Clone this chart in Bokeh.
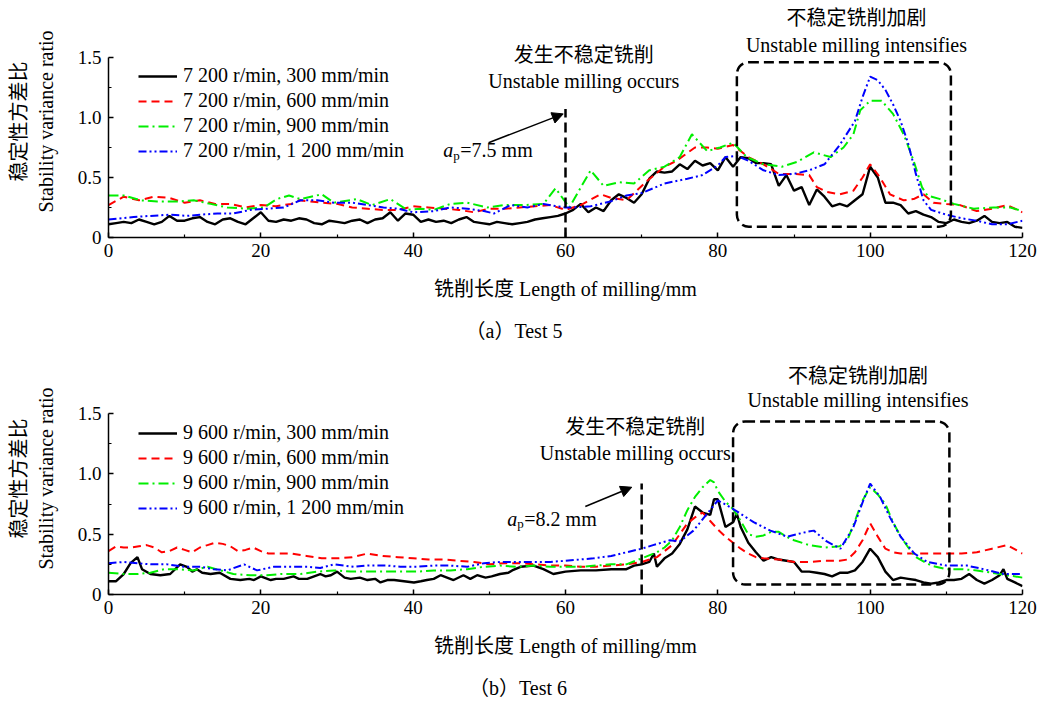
from bokeh.plotting import figure
from bokeh.layouts import column
from bokeh.models import Range1d, FixedTicker, Legend, LegendItem, Arrow, NormalHead, Label, Div
from bokeh.embed import file_html
from bokeh.resources import INLINE

# ---------------- Test 5 (7 200 r/min) ----------------
bk5_x = list(range(0, 121))
bk5_y = [0.11,0.12,0.13,0.12,0.15,0.13,0.11,0.13,0.18,0.14,
         0.14,0.16,0.17,0.13,0.11,0.15,0.16,0.13,0.11,0.16,
         0.21,0.14,0.13,0.15,0.14,0.16,0.15,0.12,0.11,0.14,
         0.13,0.12,0.14,0.15,0.12,0.15,0.16,0.21,0.14,0.20,
         0.19,0.13,0.15,0.13,0.14,0.12,0.15,0.17,0.13,0.12,
         0.11,0.13,0.12,0.11,0.12,0.13,0.15,0.16,0.17,0.18,
         0.20,0.23,0.28,0.21,0.25,0.22,0.31,0.36,0.33,0.29,
         0.36,0.49,0.55,0.54,0.55,0.61,0.57,0.64,0.60,0.62,
         0.56,0.67,0.59,0.67,0.66,0.62,0.62,0.61,0.43,0.52,
         0.39,0.42,0.27,0.40,0.34,0.26,0.28,0.26,0.31,0.36,
         0.59,0.50,0.29,0.29,0.27,0.20,0.22,0.19,0.17,0.13,
         0.12,0.15,0.13,0.12,0.14,0.18,0.13,0.12,0.13,0.09,0.08]

rd5_x = [0,2,4,6,8,10,12,14,16,18,20,22,24,25,28,30,32,34,36,38,
         40,42,44,46,48,50,52,54,56,58,60,62,64.6,66,68,70.7,73,74.6,77,78.6,
         80,82,84,86,88,90,92,93,94.3,96,97.8,99,100,101.3,102.6,104.4,105.7,107,108.3,110,
         111.8,114,116,118,120]
rd5_y = [0.27,0.34,0.31,0.34,0.33,0.29,0.31,0.28,0.28,0.25,0.27,0.26,0.28,0.31,0.29,0.28,0.25,0.24,0.23,0.23,
         0.26,0.25,0.24,0.23,0.21,0.24,0.24,0.25,0.26,0.27,0.23,0.27,0.36,0.33,0.31,0.47,0.59,0.64,0.75,0.75,
         0.74,0.77,0.67,0.61,0.53,0.53,0.52,0.42,0.38,0.36,0.39,0.50,0.61,0.50,0.36,0.31,0.32,0.36,0.29,0.28,
         0.27,0.22,0.24,0.27,0.21]

gr5_x = [0,2,4.2,6.4,9,11.2,13.4,15.6,18.2,20.4,22.1,23.7,25.2,28,29.6,32.6,34.6,37,39.2,40.9,
         42.7,44.9,47.1,49.7,51.9,54.5,57.1,58.7,60.5,63.3,65,67,69,71,73,75,76.6,78.6,80.3,82,
         83.8,86,88.4,90.4,92.6,94.8,96.5,97.8,98.7,100,101.5,103,104.4,105.7,106.8,107.5,109.2,111,113.6,116.2,
         118.4,120]
gr5_y = [0.35,0.35,0.31,0.30,0.30,0.31,0.28,0.25,0.24,0.25,0.32,0.35,0.32,0.36,0.29,0.32,0.27,0.32,0.23,0.24,
         0.23,0.28,0.29,0.25,0.27,0.27,0.28,0.41,0.25,0.56,0.43,0.46,0.45,0.56,0.59,0.67,0.86,0.72,0.75,0.79,
         0.67,0.61,0.59,0.63,0.71,0.67,0.75,0.86,1.06,1.14,1.14,1.03,0.86,0.64,0.42,0.35,0.32,0.28,0.24,0.25,
         0.25,0.22]

bl5_x = [0,3.3,5.5,8.1,10.3,12,14.3,16.4,18.6,20.8,23,25.2,27.4,29.6,32,34,36.1,38,40,42.7,
         44.9,47.1,49.3,50.6,52.8,55,57.1,58.9,60,61,63.3,65.9,68,70,73,76,78,80,81,82.5,
         84,86,88,90,92,94,96,98,99,100,101,102,103,104,105,106,107,108,110,112,
         114,116,118,120]
bl5_y = [0.15,0.17,0.18,0.19,0.18,0.19,0.20,0.20,0.23,0.24,0.25,0.31,0.31,0.29,0.29,0.27,0.25,0.24,0.21,0.22,
         0.25,0.24,0.22,0.20,0.27,0.25,0.28,0.26,0.25,0.25,0.26,0.30,0.35,0.37,0.45,0.49,0.52,0.60,0.67,0.68,
         0.64,0.56,0.52,0.53,0.56,0.61,0.77,0.97,1.17,1.34,1.31,1.23,1.11,0.97,0.78,0.53,0.31,0.23,0.19,0.16,
         0.14,0.11,0.11,0.14]

labels5 = ["7 200 r/min, 300 mm/min", "7 200 r/min, 600 mm/min",
           "7 200 r/min, 900 mm/min", "7 200 r/min, 1 200 mm/min"]

# ---------------- Test 6 (9 600 r/min) ----------------
bk6_x = [0,1,2,2.9,3.8,4.4,5.5,6.8,8.1,9.4,
         10.3,11,11.6,12.3,13.4,14.6,16,17.3,18.5,19.1,
         20,21.3,22,23,24.3,25,26.1,27.8,28.5,29.2,
         30,31,31.8,33,34,35,35.7,36.6,37.5,38.8,
         40.1,41,41.8,42.7,43.6,45.3,46.6,47.5,48.4,49.5,
         50.3,51.4,52.5,53,54.1,55.8,57.1,58.4,60,62,
         64,66,68,69,70,71,71.6,72,73,74,
         75,76,77,78,79,79.5,80,81,82,82.5,
         83,84,85,86,87,88,89,90,91,92,
         93,94,95,96,97,98,99,100,101,102,
         103,104,105,106,107,108,109,110,111,112,
         113,114,115,116,117,117.5,118,119,120]
bk6_y = [0.11,0.11,0.17,0.26,0.31,0.21,0.17,0.16,0.17,0.25,
         0.23,0.19,0.21,0.18,0.17,0.18,0.13,0.12,0.13,0.12,
         0.15,0.12,0.13,0.13,0.15,0.13,0.13,0.17,0.15,0.16,
         0.19,0.14,0.13,0.14,0.12,0.13,0.10,0.12,0.12,0.11,
         0.10,0.11,0.12,0.13,0.16,0.12,0.16,0.13,0.16,0.14,
         0.15,0.17,0.18,0.20,0.23,0.24,0.21,0.17,0.19,0.20,
         0.20,0.21,0.21,0.24,0.25,0.27,0.34,0.23,0.30,0.34,
         0.42,0.54,0.73,0.68,0.66,0.79,0.79,0.56,0.60,0.67,
         0.56,0.43,0.35,0.28,0.31,0.29,0.28,0.27,0.19,0.19,
         0.18,0.17,0.15,0.18,0.18,0.20,0.27,0.38,0.31,0.19,
         0.12,0.14,0.13,0.12,0.10,0.09,0.10,0.12,0.12,0.13,
         0.17,0.12,0.09,0.12,0.16,0.21,0.13,0.10,0.07]

rd6_x = [0,1,2,3,4,5,6,7,8,9,10,11,12,13,14,15,16,17,18,19,
         20,21,22,23,24,25,26,27,28,30,32,34,36,38,40,42,44,46,48,50,
         52,54,56,58,60,62,64,66,68,70,72,74,76,77,78,79,80,81,82,83,
         84,85,86,88,90,92,94,96,97,98,99,100,101,102,103,104,106,108,110,112,
         114,116,118,120]
rd6_y = [0.36,0.40,0.39,0.39,0.40,0.41,0.39,0.35,0.36,0.39,0.37,0.35,0.39,0.41,0.43,0.42,0.40,0.36,0.37,0.39,
         0.36,0.34,0.34,0.34,0.34,0.33,0.32,0.31,0.30,0.30,0.31,0.34,0.32,0.31,0.30,0.29,0.29,0.28,0.27,0.25,
         0.26,0.26,0.25,0.24,0.24,0.23,0.23,0.24,0.25,0.27,0.31,0.41,0.59,0.64,0.68,0.61,0.54,0.48,0.43,0.38,
         0.34,0.31,0.30,0.29,0.27,0.27,0.28,0.28,0.29,0.35,0.45,0.59,0.48,0.38,0.35,0.34,0.34,0.34,0.34,0.34,
         0.35,0.38,0.41,0.34]

gr6_x = [0,2,3.8,5.5,7.3,9,11.2,13,14.7,16.4,18.6,20.8,22.6,25.2,27.4,29.6,31.8,34,36,38.3,
         40.5,42.7,44.9,47.1,49.3,51.4,53.6,55.8,58,60,62,64,66,68,70,72,73,74,75,76,
         77,78,79,79.5,80,81,82,83,84,85,86,87,88,89,90,92,94,96,97,98,
         99,100,101,102,103,104,105,106,108,110,112,114,116,118,120]
gr6_y = [0.18,0.17,0.17,0.18,0.21,0.21,0.20,0.23,0.20,0.17,0.16,0.16,0.17,0.17,0.19,0.20,0.19,0.19,0.19,0.19,
         0.19,0.20,0.20,0.21,0.23,0.24,0.23,0.24,0.23,0.23,0.23,0.24,0.25,0.25,0.30,0.35,0.39,0.45,0.56,0.70,
         0.81,0.89,0.95,0.93,0.86,0.77,0.71,0.61,0.50,0.48,0.49,0.52,0.52,0.48,0.45,0.41,0.39,0.40,0.45,0.61,
         0.78,0.89,0.83,0.75,0.60,0.48,0.39,0.31,0.24,0.21,0.21,0.20,0.18,0.16,0.14]

bl6_x = [0,2,3.8,5.5,7.7,9.9,12.1,13.8,15.6,17.8,19.5,21.7,24,26.1,27.8,29.6,32.2,34,36.6,38.3,
         40.5,42.7,44.9,47.1,49.3,51.4,53.6,55.8,58,60,63.7,66,68,70,71.5,73.7,75,76.8,78.6,80,
         81.2,82.5,84.7,86.9,89.1,91.7,92.6,94.3,96.1,97.8,99.1,100,101.3,102.6,104,105.8,107.5,110,112.7,114.9,
         117.5,120]
bl6_y = [0.26,0.27,0.26,0.25,0.25,0.23,0.23,0.21,0.20,0.25,0.20,0.23,0.23,0.23,0.22,0.25,0.23,0.24,0.24,0.23,
         0.23,0.24,0.24,0.23,0.26,0.27,0.27,0.27,0.27,0.28,0.30,0.32,0.35,0.38,0.41,0.45,0.44,0.53,0.67,0.78,
         0.74,0.69,0.60,0.53,0.48,0.52,0.53,0.44,0.38,0.56,0.78,0.92,0.81,0.64,0.48,0.34,0.27,0.24,0.24,0.21,
         0.17,0.17]

labels6 = ["9 600 r/min, 300 mm/min", "9 600 r/min, 600 mm/min",
           "9 600 r/min, 900 mm/min", "9 600 r/min, 1 200 mm/min"]

x_ticks = [0, 20, 40, 60, 80, 100, 120]
x_minor = [10, 30, 50, 70, 90, 110]
y_ticks = [0, 0.5, 1.0, 1.5]
y_minor = [0.25, 0.75, 1.25]
y_tick_labels = {0: "0", 0.5: "0.5", 1: "1.0", 1.5: "1.5"}

FONT = "Liberation Serif, Noto Sans CJK SC"
COLORS = ["#000000", "#ff0000", "#00ee00", "#0000ff"]
DASHES = ["solid", "8 5", "10 4 2 4", "8 3 2 3 2 3"]
WIDTHS = [2.4, 2.0, 2.0, 2.0]


def lbl(p, x, y, text, size="20px", align="center", style="normal", xo=0, yo=0, baseline="middle"):
    p.add_layout(Label(x=x, y=y, text=text, text_align=align, text_baseline=baseline,
                       text_font=FONT, text_font_size=size, text_font_style=style,
                       text_color="black", x_offset=xo, y_offset=yo))


def make_panel(series, labels, height, b_top, b_bottom, ymax, onset, onset_top,
               arrow, ap_pos, ap_text, t_occ, t_int, box):
    p = figure(width=1040, height=height, x_range=Range1d(0, 120), y_range=Range1d(0, ymax),
               output_backend="svg", toolbar_location=None,
               min_border_left=108, min_border_right=18,
               min_border_top=b_top, min_border_bottom=b_bottom)
    p.outline_line_color = None
    p.grid.visible = False

    p.xaxis.ticker = FixedTicker(ticks=x_ticks, minor_ticks=x_minor)
    p.yaxis.ticker = FixedTicker(ticks=y_ticks, minor_ticks=y_minor)
    p.yaxis.bounds = (0, 1.5)
    p.yaxis.major_label_overrides = y_tick_labels
    p.xaxis.axis_label = "铣削长度 Length of milling/mm"
    p.yaxis.axis_label = "稳定性方差比\nStability variance ratio"
    for ax in p.axis:
        ax.axis_line_width = 1.5
        ax.axis_line_color = "black"
        ax.major_tick_in = 5
        ax.major_tick_out = 0
        ax.minor_tick_in = 3
        ax.minor_tick_out = 0
        ax.major_tick_line_width = 1.5
        ax.minor_tick_line_width = 1.2
        ax.major_tick_line_color = "black"
        ax.minor_tick_line_color = "black"
        ax.major_label_text_font = FONT
        ax.major_label_text_font_size = "19px"
        ax.major_label_text_color = "black"
        ax.axis_label_text_font = FONT
        ax.axis_label_text_font_size = "20px"
        ax.axis_label_text_font_style = "normal"
        ax.axis_label_text_color = "black"
    p.xaxis.major_label_standoff = 6
    p.xaxis.axis_label_standoff = 18
    p.yaxis.major_label_standoff = 7
    p.yaxis.axis_label_standoff = 18

    items = []
    for (xs, ys), lab, c, d, w in zip(series, labels, COLORS, DASHES, WIDTHS):
        r = p.line(xs, ys, line_color=c, line_dash=d, line_width=w)
        items.append(LegendItem(label=lab, renderers=[r]))
    leg = Legend(items=items, location=(30, 75), glyph_width=39, glyph_height=22,
                 label_height=22, spacing=2, padding=0, margin=0, label_standoff=6,
                 border_line_color=None, background_fill_alpha=0,
                 label_text_font=FONT, label_text_font_size="20px", label_text_color="black")
    p.add_layout(leg)

    # onset marker, arrow and notes
    p.line([onset, onset], [0, onset_top], line_color="black", line_dash="10 5", line_width=2.5)
    p.add_layout(Arrow(end=NormalHead(size=11, fill_color="black", line_color="black"),
                       x_start=arrow[0], y_start=arrow[1], x_end=arrow[2], y_end=arrow[3],
                       line_color="black", line_width=1.5))
    lbl(p, ap_pos[0], ap_pos[1], "a", align="left", style="italic")
    lbl(p, ap_pos[0], ap_pos[1], "p", size="13px", align="left", xo=10, yo=-5)
    lbl(p, ap_pos[0], ap_pos[1], ap_text, align="left", xo=17)
    lbl(p, t_occ[0], t_occ[1], "发生不稳定铣削")
    lbl(p, t_occ[0], t_occ[2], "Unstable milling occurs")
    lbl(p, t_int[0], t_int[1], "不稳定铣削加剧")
    lbl(p, t_int[0], t_int[2], "Unstable milling intensifies")
    p.quad(left=[box[0]], right=[box[1]], bottom=[box[2]], top=[box[3]], fill_color=None,
           line_color="black", line_dash="10 5", line_width=2.5, border_radius=12)
    return p


def caption(text, height, pad_top, line_h, shift):
    html = ('<div style="padding-top:%dpx;line-height:%dpx;text-align:center;width:1040px;'
            'font-family:\'Liberation Serif\',\'Noto Sans CJK SC\';font-size:20px;color:black;'
            'margin-left:%dpx">%s</div>' % (pad_top, line_h, shift, text))
    return Div(text=html, width=1040, height=height, margin=0)


p1 = make_panel([(bk5_x, bk5_y), (rd5_x, rd5_y), (gr5_x, gr5_y), (bl5_x, bl5_y)], labels5,
                310, 5, 73, 1.933, 60, 1.07, (49.9, 0.79, 59.7, 1.03),
                (43.96, 0.725), "=7.5 mm", (62.4, 1.517, 1.30), (98.2, 1.825, 1.608),
                (82.5, 110.6, 0.09, 1.46))
p2 = make_panel([(bk6_x, bk6_y), (rd6_x, rd6_y), (gr6_x, gr6_y), (bl6_x, bl6_y)], labels6,
                312, 11, 69, 1.925, 70, 0.92, (62.6, 0.73, 68.7, 0.89),
                (52.36, 0.63), "=8.2 mm", (69.16, 1.386, 1.178), (98.4, 1.809, 1.61),
                (82.0, 110.4, 0.083, 1.436))

c1 = caption("（a）Test 5", 41, 9, 24, -6)
c2 = caption("（b）Test 6", 39, 13, 24, -2)

layout = column(p1, c1, p2, c2, spacing=0)
open("out.html", "w").write(file_html(layout, INLINE))
